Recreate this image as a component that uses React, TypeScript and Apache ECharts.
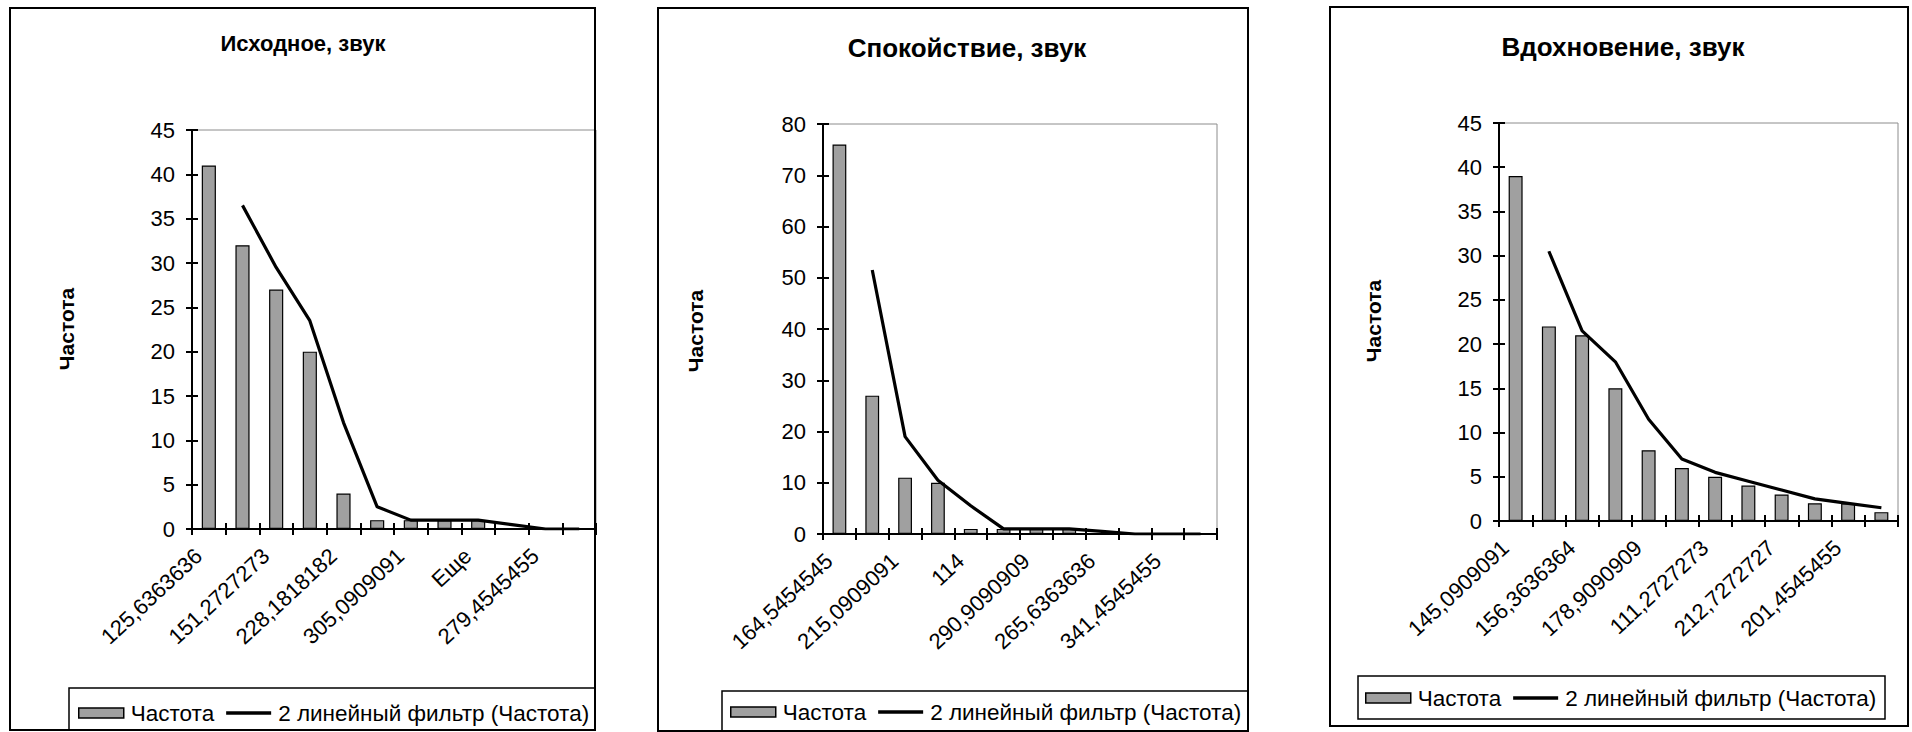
import React, { useEffect, useRef } from 'react';
import * as echarts from 'echarts';

const FONT = '"Liberation Sans", Arial, sans-serif';

// Panel 1: Исходное, звук
const p1Categories = ['125,6363636', '176,9090909', '151,2727273', '202,5454545', '228,1818182', '253,8181818', '305,0909091', '330,7272727', 'Еще', '356,3636364', '279,4545455', '382'];
const p1Bars = [41, 32, 27, 20, 4, 1, 1, 1, 1, 0, 0, 0];
const p1Line = [null, 36.5, 29.5, 23.5, 12, 2.5, 1, 1, 1, 0.5, 0, 0];

// Panel 2: Спокойствие, звук
const p2Categories = ['164,5454545', '189,8181818', '215,0909091', '139,2727273', '114', '240,3636364', '290,9090909', '316,1818182', '265,6363636', 'Еще', '341,4545455', '366,7272727'];
const p2Bars = [76, 27, 11, 10, 1, 1, 1, 1, 0, 0, 0, 0];
const p2Line = [null, 51.5, 19, 10.5, 5.5, 1, 1, 1, 0.5, 0, 0, 0];

// Panel 3: Вдохновение, звук
const p3Categories = ['145,0909091', '133,8181818', '156,3636364', '167,6363636', '178,9090909', '122,5454545', '111,2727273', '190,1818182', '212,7272727', '224', '201,4545455', 'Еще'];
const p3Bars = [39, 22, 21, 15, 8, 6, 5, 4, 3, 2, 2, 1];
const p3Line = [null, 30.5, 21.5, 18, 11.5, 7, 5.5, 4.5, 3.5, 2.5, 2, 1.5];

const titles = ['Исходное, звук', 'Спокойствие, звук', 'Вдохновение, звук'];
const yMaxes = [45, 80, 45];
const yIntervals = [5, 10, 5];
const yAxisName = 'Частота';
const barName = 'Частота';
const lineName = '2 линейный фильтр (Частота)';

const data = [
  { cats: p1Categories, bars: p1Bars, line: p1Line },
  { cats: p2Categories, bars: p2Bars, line: p2Line },
  { cats: p3Categories, bars: p3Bars, line: p3Line },
];

// layout (pixels)
const layout = [
  { grid: { left: 192, top: 130, width: 404, height: 399 }, border: [10, 8, 585, 722], title: [303, 43, 22], yName: [66, 329], legendBox: [69, 688, 526, 42], legend: [78, 701] },
  { grid: { left: 823, top: 124, width: 394, height: 410 }, border: [658, 8, 590, 723], title: [967, 48, 26], yName: [695, 331], legendBox: [722, 691, 526, 40], legend: [730, 700] },
  { grid: { left: 1499, top: 123, width: 399, height: 398 }, border: [1330, 7, 578, 719], title: [1623, 47, 26], yName: [1373, 321], legendBox: [1358, 676, 527, 43], legend: [1365, 686] },
];

function buildOption() {
  const grid: any[] = [];
  const xAxis: any[] = [];
  const yAxis: any[] = [];
  const series: any[] = [];
  const legend: any[] = [];
  const graphic: any[] = [];
  const axisColor = '#000';

  data.forEach((d, i) => {
    const L = layout[i];
    grid.push({ ...L.grid, show: true, borderColor: '#8c8c8c', borderWidth: 1, backgroundColor: 'transparent', containLabel: false });
    xAxis.push({
      type: 'category', gridIndex: i, data: d.cats, position: 'bottom', boundaryGap: true,
      axisLine: { show: true, lineStyle: { color: axisColor, width: 2 } },
      axisTick: { show: true, interval: 0, length: 6, lineStyle: { color: axisColor, width: 2 } },
      axisLabel: { interval: 1, rotate: 43, color: '#000', fontSize: 22, fontFamily: FONT, margin: 14, padding: [0, 14, 0, 0] },
      splitLine: { show: false },
    });
    xAxis.push({
      type: 'category', gridIndex: i, data: d.cats, position: 'bottom', boundaryGap: true,
      axisLine: { show: false },
      axisTick: { show: true, inside: true, interval: 0, length: 6, lineStyle: { color: axisColor, width: 2 } },
      axisLabel: { show: false },
      splitLine: { show: false },
    });
    yAxis.push({
      type: 'value', gridIndex: i, min: 0, max: yMaxes[i], interval: yIntervals[i], position: 'left',
      axisLine: { show: true, lineStyle: { color: axisColor, width: 2 } },
      axisTick: { show: true, length: 6, lineStyle: { color: axisColor, width: 2 } },
      axisLabel: { color: '#000', fontSize: 22, fontFamily: FONT, margin: 17 },
      splitLine: { show: false },
    });
    yAxis.push({
      type: 'value', gridIndex: i, min: 0, max: yMaxes[i], interval: yIntervals[i], position: 'left',
      axisLine: { show: false },
      axisTick: { show: true, inside: true, length: 6, lineStyle: { color: axisColor, width: 2 } },
      axisLabel: { show: false },
      splitLine: { show: false },
    });
    series.push({
      type: 'bar', name: barName, xAxisIndex: 2 * i, yAxisIndex: 2 * i, data: d.bars, barWidth: '42%',
      itemStyle: { color: '#a0a0a0', borderColor: '#000', borderWidth: 1.2 },
    });
    series.push({
      type: 'line', name: lineName, xAxisIndex: 2 * i, yAxisIndex: 2 * i, data: d.line, symbol: 'none', showSymbol: false,
      lineStyle: { color: '#000', width: 3.2 }, itemStyle: { color: '#000' },
    });
    legend.push({
      left: L.legend[0], top: L.legend[1], orient: 'horizontal', padding: 0, itemGap: 12,
      itemWidth: 45, itemHeight: 10, selectedMode: false,
      textStyle: { fontSize: 22.5, lineHeight: 24, color: '#000', fontFamily: FONT, padding: [0, 0, 0, 2] },
      data: [
        { name: barName, icon: 'rect', itemStyle: { color: '#a0a0a0', borderColor: '#000', borderWidth: 1.5 } },
        { name: lineName, icon: 'path://M0,0L45,0L45,3.5L0,3.5Z', itemStyle: { color: '#000', borderWidth: 0 } },
      ],
    });
    const [bx, by, bw, bh] = L.border;
    graphic.push({ type: 'rect', z: 100, silent: true, shape: { x: bx, y: by, width: bw, height: bh }, style: { fill: 'none', stroke: '#000', lineWidth: 2 } });
    const [lx, ly, lw, lh] = L.legendBox;
    graphic.push({ type: 'rect', z: 100, silent: true, shape: { x: lx, y: ly, width: lw, height: lh }, style: { fill: 'none', stroke: '#000', lineWidth: 1.5 } });
    graphic.push({ type: 'text', z: 100, silent: true, x: L.title[0], y: L.title[1], style: { text: titles[i], fontSize: L.title[2], fontWeight: 'bold', fontFamily: FONT, fill: '#000', textAlign: 'center', textVerticalAlign: 'middle' } });
    graphic.push({ type: 'text', z: 100, silent: true, x: L.yName[0], y: L.yName[1], rotation: Math.PI / 2, style: { text: yAxisName, fontSize: 21, fontWeight: 'bold', fontFamily: FONT, fill: '#000', textAlign: 'center', textVerticalAlign: 'middle' } });
  });

  return { animation: false, backgroundColor: '#fff', grid, xAxis, yAxis, series, legend, graphic };
}

export default function App() {
  const ref = useRef<HTMLDivElement>(null);
  useEffect(() => {
    const chart = echarts.init(ref.current as HTMLDivElement, null, { renderer: 'svg' });
    chart.setOption(buildOption() as any);
    return () => chart.dispose();
  }, []);
  return <div ref={ref} style={{ position: 'absolute', left: 0, top: 0, width: 1912, height: 732, background: '#fff' }} />;
}
